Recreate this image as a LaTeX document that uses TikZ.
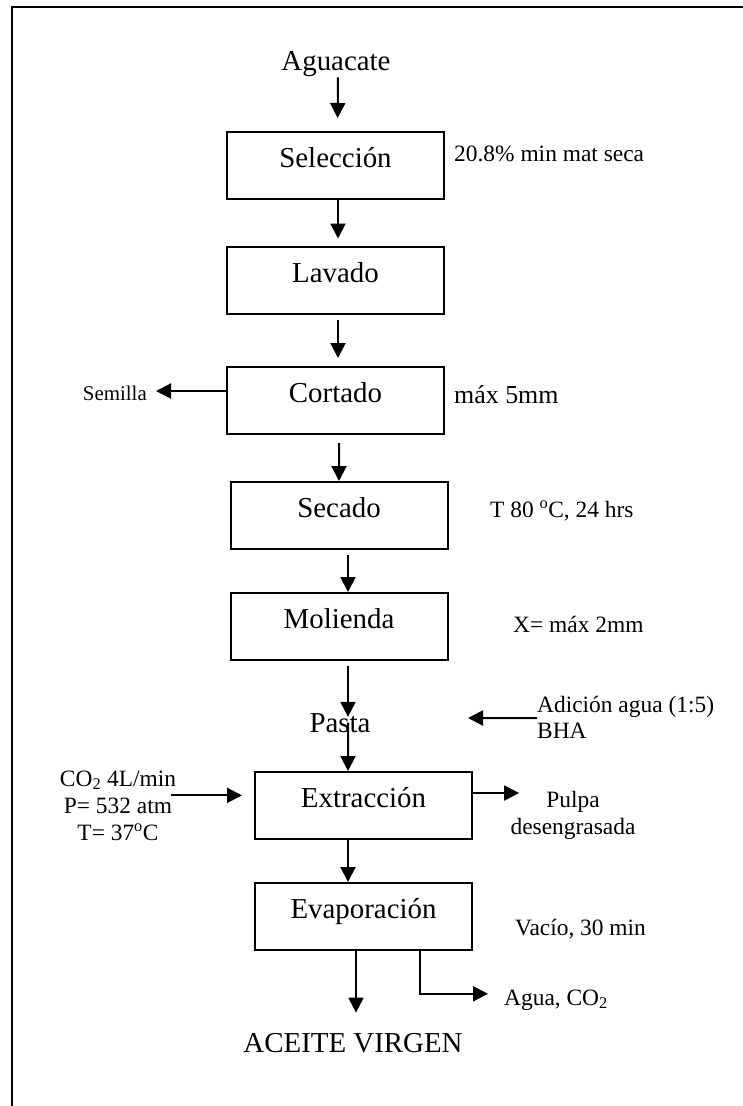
\documentclass[tikz,border=0pt]{standalone}
\usepackage{fontspec}
\setmainfont{Liberation Serif}
\usetikzlibrary{arrows.meta,calc}
\begin{document}
\begin{tikzpicture}[x=1bp,y=-1bp,
  box/.style={draw, line width=2bp, minimum width=217bp, minimum height=67bp, inner sep=0pt,
    font=\fontsize{29}{34}\selectfont, text height=0.65em, text depth=0.2em},
  big/.style={inner sep=0pt, anchor=base, font=\fontsize{29}{34}\selectfont},
  note/.style={inner sep=0pt, anchor=base west, font=\fontsize{23.5}{28}\selectfont},
  cnote/.style={inner sep=0pt, anchor=base, font=\fontsize{23.5}{28}\selectfont},
  arr/.style={line width=2bp, -{Triangle[length=15bp,width=15bp]}},
]
\useasboundingbox (0,0) rectangle (743,1106);
\draw[line width=2bp] (12,1106) -- (12,7) -- (743,7);

% process boxes
\node[box] (sel) at (335.5,165.5) {Selección};
\node[box] (lav) at (335.5,280) {Lavado};
\node[box] (cor) at (335.5,400.5) {Cortado};
\node[box] (sec) at (339,515.5) {Secado};
\node[box] (mol) at (339,626.5) {Molienda};
\node[box] (ext) at (363.5,805.5) {Extracción};
\node[box] (eva) at (363.5,916.5) {Evaporación};

% flow texts
\node[big] (agu) at (336,70) {Aguacate};
\node[big] (pas) at (340,732) {Pasta};
\node[big] (ace) at (353,1052) {ACEITE VIRGEN};

% notes
\node[note] (n1) at (454,161) {20.8\% min mat seca};
\node[inner sep=0pt, anchor=base east, font=\fontsize{21}{25}\selectfont] (sem) at (147,400) {Semilla};
\node[note, font=\fontsize{26}{30}\selectfont] (n2) at (454,403) {máx 5mm};
\node[note] (n3) at (490,517) {T 80 \textsuperscript{o}C, 24 hrs};
\node[note] (n4) at (513,632) {X= máx 2mm};
\node[note] (add1) at (537,712) {Adición agua (1:5)};
\node[note] (add2) at (537,738) {BHA};
\node[cnote] (co2a) at (118,786) {CO\textsubscript{2} 4L/min};
\node[cnote] (co2b) at (118,813) {P= 532 atm};
\node[cnote] (co2c) at (118,840) {T= 37\textsuperscript{o}C};
\node[cnote] (pul1) at (573,807) {Pulpa};
\node[cnote] (pul2) at (573,834) {desengrasada};
\node[note] (vac) at (515,935) {Vacío, 30 min};
\node[note] (agw) at (504,1005) {Agua, CO\textsubscript{2}};
\coordinate (addtip) at (468,718);

% connectors
\draw[arr, shorten <=1bp, shorten >=13bp] ([xshift=2bp]agu.south) -- ([xshift=2bp]sel.north);
\draw[arr, shorten >=7bp] ([xshift=2.5bp]sel.south) -- ([xshift=2.5bp]lav.north);
\draw[arr, shorten <=5bp, shorten >=8bp] ([xshift=2.5bp]lav.south) -- ([xshift=2.5bp]lav.south |- cor.north);
\draw[arr, shorten <=8bp] ([xshift=3.5bp]cor.south) -- (sec.north);
\draw[arr, shorten <=5bp] ([xshift=9bp]sec.south) -- ([xshift=9bp]mol.north);
\draw[arr, shorten <=5bp, shorten >=-4bp] ([xshift=9bp]mol.south) -- ([xshift=9bp]mol.south |- pas.north);
\draw[arr] ([xshift=8bp]pas.center) -- ([xshift=-15.5bp]ext.north);
\draw[arr] ([xshift=-15.5bp]ext.south) -- ([xshift=-15.5bp]eva.north);
\draw[arr, shorten >=20bp] ([xshift=-7.5bp]eva.south) -- ([xshift=-7.5bp]eva.south |- ace.north);
\draw[arr, shorten >=16bp] ([xshift=56.5bp]eva.south) |- ([yshift=6bp]agw.west);
\draw[arr, shorten >=9bp] ([yshift=9.5bp]cor.west) -- ([yshift=9.5bp]cor.west -| sem.east);
\draw[arr] ([yshift=-6bp]add1.base west) -- (addtip);
\draw[arr, shorten <=-1bp, shorten >=12bp] ([yshift=10bp]co2b.east) -- ([yshift=10bp]co2b.east -| ext.west);
\draw[arr, shorten >=27bp] ([yshift=12.5bp]ext.east) -- ([yshift=12.5bp]ext.east -| pul1.west);
\end{tikzpicture}
\end{document}
